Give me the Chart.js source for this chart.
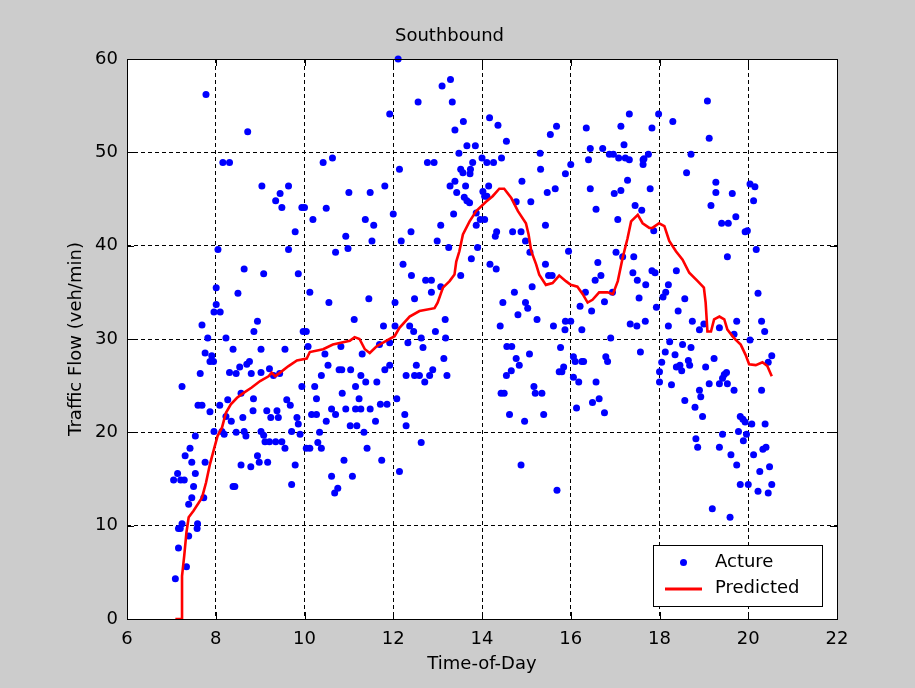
<!DOCTYPE html>
<html>
<head>
<meta charset="utf-8">
<script src="https://cdn.jsdelivr.net/npm/chart.js@4.4.1/dist/chart.umd.min.js"></script>
<style>
  html, body { margin: 0; padding: 0; background: #cccccc; }
  #wrap { width: 915px; height: 688px; }
</style>
</head>
<body>
<div id="wrap"><canvas id="c" width="915" height="688"></canvas></div>
<script>
// ---- Data ----
const chartTitle = "Southbound";
const xAxisTitle = "Time-of-Day";
const yAxisTitle = "Traffic Flow (veh/min)";
const seriesNames = ["Acture", "Predicted"];

const actTime = [
7.05,7.21,7.29,7.14,7.09,7.16,7.34,7.39,7.16,7.2,7.24,7.24,7.31,7.39,7.42,7.46,7.46,7.5,7.54,7.54,7.58,7.59,7.6,7.65,7.69,7.69,7.73,7.76,7.76,7.78,7.82,7.87,7.87,7.91,7.95,7.96,7.96,
8.01,8.01,8.05,8.09,8.1,8.14,8.16,8.19,8.23,8.23,8.27,8.31,8.31,8.35,8.39,8.39,8.43,8.46,8.46,8.5,8.54,8.57,8.57,8.61,8.64,8.64,8.68,8.7,8.72,8.76,8.79,8.8,8.84,8.85,8.86,8.94,8.94,8.98,
9.02,9.02,9.02,9.04,9.08,9.08,9.11,9.15,9.17,9.21,9.21,9.24,9.3,9.35,9.35,9.38,9.41,9.44,9.45,9.49,9.49,9.56,9.56,9.6,9.64,9.64,9.68,9.71,9.71,9.79,9.79,9.83,9.86,9.86,9.9,9.94,9.94,9.97,
10.04,10.0,10.04,10.08,10.12,10.12,10.16,10.19,10.23,10.27,10.27,10.3,10.34,10.38,10.38,10.42,10.46,10.49,10.49,10.53,10.55,10.61,10.61,10.63,10.68,10.7,10.7,10.75,10.78,10.82,10.84,10.85,10.89,10.93,10.93,10.98,
11.0,11.03,11.04,11.08,11.12,11.15,11.15,11.18,11.23,11.27,11.27,11.3,11.34,11.37,11.38,11.41,11.45,11.48,11.48,11.52,11.56,11.6,11.63,11.69,11.71,11.74,11.78,11.81,11.81,11.86,11.92,11.92,11.92,
12.0,12.04,12.04,12.08,12.11,12.14,12.14,12.18,12.22,12.26,12.29,12.29,12.33,12.37,12.4,12.41,12.46,12.48,12.48,12.52,12.56,12.59,12.63,12.63,12.67,12.71,12.73,12.77,12.82,12.86,12.86,12.89,12.92,12.95,12.99,
13.07,13.07,13.1,13.14,13.17,13.18,13.21,13.25,13.28,13.29,13.33,13.36,13.39,13.39,13.43,13.48,13.52,13.52,13.57,13.58,13.6,13.63,13.66,13.66,13.72,13.73,13.74,13.76,13.79,13.85,13.87,13.87,13.9,13.96,
14.0,14.02,14.06,14.06,14.11,14.11,14.15,14.17,14.18,14.26,14.3,14.32,14.33,14.36,14.41,14.43,14.44,14.47,14.5,14.55,14.55,14.56,14.62,14.66,14.67,14.69,14.73,14.77,14.77,14.81,14.84,14.88,14.88,14.9,14.96,14.98,14.98,
15.03,15.07,15.08,15.1,15.13,15.17,15.2,15.24,15.31,15.32,15.35,15.39,15.43,15.43,15.47,15.5,15.54,15.58,15.61,15.65,15.68,15.69,15.74,15.77,15.8,15.84,15.87,15.88,15.88,15.95,
16.0,16.0,16.06,16.06,16.1,16.13,16.18,16.21,16.25,16.25,16.29,16.33,16.35,16.4,16.44,16.44,16.47,16.49,16.55,16.57,16.57,16.61,16.64,16.68,16.72,16.76,16.76,16.79,16.83,16.87,16.9,16.94,16.96,16.98,
17.02,17.06,17.08,17.13,17.13,17.17,17.2,17.23,17.28,17.32,17.32,17.34,17.4,17.42,17.45,17.49,17.5,17.54,17.57,17.6,17.63,17.63,17.65,17.75,17.68,17.69,17.79,17.83,17.83,17.87,17.9,17.93,17.98,
18.0,18.0,18.05,18.08,18.13,18.14,18.2,18.2,18.23,18.27,18.3,18.35,18.38,18.38,18.42,18.46,18.5,18.52,18.57,18.57,18.61,18.65,18.68,18.71,18.71,18.74,18.8,18.82,18.86,18.9,18.9,18.93,18.97,
19.0,19.04,19.08,19.12,19.12,19.16,19.19,19.23,19.27,19.27,19.35,19.35,19.35,19.4,19.42,19.42,19.46,19.51,19.53,19.53,19.55,19.59,19.61,19.64,19.68,19.68,19.72,19.74,19.74,19.78,19.82,19.82,19.88,19.89,19.93,19.93,19.96,19.98,
20.0,20.04,20.04,20.08,20.12,20.12,20.15,20.18,20.22,20.22,20.26,20.3,20.3,20.33,20.37,20.38,20.4,20.45,20.45,20.48,20.53,20.53
];
const actFlow = [
14.9,14.9,14.9,15.6,4.3,7.6,5.6,8.9,9.7,9.7,10.2,24.9,17.5,12.3,18.3,16.8,13.0,14.2,15.6,19.6,9.7,10.2,22.9,26.3,22.9,31.5,13.0,16.8,28.5,56.2,30.1,22.2,27.6,28.2,27.6,20.1,32.9,
33.7,35.5,39.6,22.9,32.9,20.1,48.9,19.8,21.7,30.1,23.5,48.9,26.4,21.2,28.9,14.2,14.2,26.3,20.0,34.9,27.0,24.2,16.5,21.6,37.5,20.1,19.6,27.3,52.2,27.6,16.3,26.3,22.3,23.6,30.8,31.9,17.5,16.8,
28.9,26.4,20.1,46.4,37.0,19.7,19.0,22.3,16.8,26.8,19.0,21.6,26.1,44.8,19.0,22.3,21.6,26.3,45.6,44.1,19.0,28.9,18.3,23.5,46.4,39.6,22.9,20.1,14.4,41.5,16.5,21.6,37.0,20.9,19.8,24.9,44.1,30.8,
30.8,44.1,18.3,29.2,18.3,35.0,21.9,42.8,24.9,21.9,23.6,18.9,20.0,26.1,18.3,48.9,28.4,44.0,21.2,27.2,33.9,22.5,15.3,49.4,13.5,39.3,21.9,14.0,26.7,29.2,26.7,24.2,17.0,41.0,22.5,39.7,
45.7,20.7,26.7,15.3,32.1,24.9,22.5,20.7,23.6,26.1,22.5,28.4,20.0,42.8,25.4,18.3,34.3,45.7,22.5,40.5,42.2,21.2,25.4,29.4,23.0,17.0,31.4,46.4,26.7,23.0,54.1,29.6,27.2,
43.4,33.9,31.4,23.6,60.0,48.2,15.8,40.5,38.0,21.9,26.1,20.7,29.6,31.4,41.5,36.8,30.8,34.3,26.1,27.2,55.4,26.1,30.1,18.9,29.1,25.4,36.3,48.9,26.1,36.3,35.0,26.7,48.9,30.8,40.5,
42.2,35.6,57.1,27.9,32.1,30.1,26.1,39.8,46.4,57.8,55.4,43.4,52.4,46.9,45.7,49.9,48.2,36.8,47.8,53.3,45.2,46.4,50.7,44.8,44.6,47.7,48.2,38.6,48.9,50.7,43.5,42.2,39.8,42.8,
49.4,45.8,45.3,42.8,48.9,45.3,46.4,53.7,38.0,48.9,41.0,37.5,41.5,52.9,31.4,24.2,49.4,33.9,24.2,51.2,26.1,29.2,21.9,26.6,29.2,41.5,35.0,44.7,27.9,32.6,27.2,41.5,16.5,46.9,21.2,40.5,33.9,
33.3,28.4,39.3,44.7,35.6,24.9,24.2,32.1,49.9,48.2,24.2,21.9,42.2,38.0,45.7,36.8,51.9,36.8,31.4,46.1,52.8,13.8,26.5,29.1,26.5,27.0,31.0,31.9,47.7,39.4,
31.9,48.7,28.1,25.9,27.6,22.6,25.4,33.5,31.0,27.6,27.6,35.0,52.6,49.2,50.4,46.1,33.0,23.2,36.3,43.9,25.4,38.2,23.6,36.8,50.4,34.0,22.1,28.1,27.6,49.8,30.1,35.0,49.8,45.6,
39.3,42.8,49.4,52.8,45.9,38.8,50.8,49.4,47.0,54.1,49.2,31.6,37.1,38.8,44.3,31.4,36.3,34.4,28.6,43.8,49.2,48.7,49.3,49.8,31.9,35.8,46.1,52.6,37.3,41.6,37.1,33.4,54.1,
26.5,25.4,27.5,34.5,28.6,35.0,35.8,31.4,29.7,25.1,53.3,28.3,37.3,27.0,33.0,27.2,26.6,29.4,34.3,23.4,47.8,27.7,27.2,49.8,29.1,31.9,22.7,19.3,18.4,31.0,24.5,23.8,21.7,
31.6,27.0,55.5,51.5,25.2,44.3,11.8,27.9,46.8,45.7,31.2,25.2,18.4,42.4,25.8,19.8,26.2,26.4,38.8,25.2,42.4,10.9,17.6,45.6,30.5,24.5,43.1,31.9,16.5,20.1,21.7,14.4,21.4,19.1,41.5,21.1,19.8,41.6,
14.4,46.6,29.9,20.9,44.8,17.6,46.3,39.6,34.9,13.7,15.8,31.9,24.5,18.2,30.8,20.9,18.4,27.5,13.5,16.3,28.2,14.4
];

const predTime = [7.09,7.24,7.24,7.29,7.34,7.39,7.5,7.69,7.78,7.87,7.96,8.04,8.14,8.23,8.34,8.48,8.62,8.81,9.0,9.19,9.26,9.34,9.45,9.64,9.83,10.05,10.12,10.42,10.64,11.02,11.13,11.24,11.36,11.47,11.62,11.84,12.03,12.14,12.37,12.59,12.93,13.0,13.12,13.27,13.38,13.42,13.49,13.57,13.72,13.87,14.09,14.24,14.39,14.5,14.66,14.81,14.99,15.05,15.11,15.22,15.29,15.44,15.59,15.74,15.89,16.0,16.15,16.27,16.38,16.49,16.64,16.83,16.95,17.06,17.17,17.28,17.36,17.51,17.62,17.77,17.84,17.99,18.11,18.22,18.37,18.52,18.67,18.86,19.0,19.04,19.08,19.16,19.23,19.35,19.46,19.53,19.68,19.83,19.94,20.02,20.17,20.32,20.43,20.53];
const predFlow = [0,0,4.6,6.8,9.3,10.9,11.6,13.0,14.6,16.6,18.2,19.6,20.5,22.1,23.0,23.7,24.2,24.8,25.5,26.0,26.4,26.0,26.4,27.1,27.7,27.9,28.6,28.9,29.4,29.8,30.2,30.0,28.9,28.5,29.2,29.8,30.3,31.2,32.4,33.0,33.3,33.9,35.5,36.2,36.9,38.3,39.4,41.2,42.6,43.7,44.7,45.3,46.1,46.1,45.1,43.7,42.4,41.2,39.4,38.0,36.9,35.8,36.0,36.8,36.2,35.8,35.6,34.8,33.9,34.2,35.0,35.0,34.8,36.2,38.7,40.8,42.6,43.3,42.4,41.9,41.9,42.4,42.1,40.5,39.4,38.5,37.1,36.2,35.5,33.9,30.8,30.8,32.1,32.4,32.1,31.0,30.1,29.4,28.3,27.3,27.2,27.5,27.1,26.0];

const xMin = 6, xMax = 22, xStep = 2;
const yMin = 0, yMax = 60, yStep = 10;

// ---- Styling ----
const FONT = "'DejaVu Sans', 'Liberation Sans', Arial, sans-serif";
const BLUE = '#0000ff', RED = '#ff0000';

const actPoints = actTime.map((t, i) => ({ x: t, y: actFlow[i] }));
const predPoints = predTime.map((t, i) => ({ x: t, y: predFlow[i] }));

// White plot background, solid box with inward ticks, legend inside axes
const axesPlugin = {
  id: 'axesBox',
  beforeDraw(chart) {
    const { ctx, chartArea: a } = chart;
    ctx.save();
    ctx.fillStyle = '#ffffff';
    ctx.fillRect(a.left, a.top, a.right - a.left, a.bottom - a.top);
    ctx.restore();
  },
  afterDraw(chart) {
    const { ctx, chartArea: a, scales } = chart;
    const tl = 7;
    ctx.save();
    ctx.strokeStyle = '#000000';
    ctx.lineWidth = 1;
    ctx.setLineDash([]);
    ctx.strokeRect(Math.round(a.left) + 0.5, Math.round(a.top) + 0.5,
                   Math.round(a.right - a.left), Math.round(a.bottom - a.top));
    ctx.beginPath();
    scales.x.ticks.forEach(t => {
      const px = Math.round(scales.x.getPixelForValue(t.value)) + 0.5;
      ctx.moveTo(px, a.bottom); ctx.lineTo(px, a.bottom - tl);
      ctx.moveTo(px, a.top); ctx.lineTo(px, a.top + tl);
    });
    scales.y.ticks.forEach(t => {
      const py = Math.round(scales.y.getPixelForValue(t.value)) + 0.5;
      ctx.moveTo(a.left, py); ctx.lineTo(a.left + tl, py);
      ctx.moveTo(a.right, py); ctx.lineTo(a.right - tl, py);
    });
    ctx.stroke();

    // legend box (inside the axes, lower right)
    const w = 169, h = 61;
    const lx = Math.round(a.right) - 184, ly = Math.round(a.bottom) - 74;
    ctx.fillStyle = '#ffffff';
    ctx.fillRect(lx, ly, w, h);
    ctx.strokeStyle = '#000000';
    ctx.strokeRect(lx + 0.5, ly + 0.5, w, h);
    const ds = chart.data.datasets;
    ctx.fillStyle = ds[0].pointBackgroundColor;
    ctx.beginPath();
    ctx.arc(lx + 30.5, ly + 17.5, 3.5, 0, Math.PI * 2);
    ctx.fill();
    ctx.strokeStyle = ds[1].borderColor;
    ctx.lineWidth = 3;
    ctx.beginPath();
    ctx.moveTo(lx + 12, ly + 44); ctx.lineTo(lx + 49, ly + 44);
    ctx.stroke();
    ctx.fillStyle = '#000000';
    ctx.font = '18px ' + FONT;
    ctx.textBaseline = 'middle';
    ctx.textAlign = 'left';
    ctx.fillText(ds[0].label, lx + 62, ly + 17);
    ctx.fillText(ds[1].label, lx + 62, ly + 43);
    ctx.restore();
  }
};

new Chart(document.getElementById('c'), {
  type: 'scatter',
  data: {
    datasets: [
      {
        label: seriesNames[0],
        data: actPoints,
        showLine: false,
        pointRadius: 3.5,
        pointHoverRadius: 3.5,
        pointBackgroundColor: BLUE,
        pointBorderColor: BLUE,
        pointBorderWidth: 0,
        clip: false,
        order: 2
      },
      {
        label: seriesNames[1],
        data: predPoints,
        showLine: true,
        borderColor: RED,
        backgroundColor: RED,
        borderWidth: 2.6,
        pointRadius: 0,
        pointHoverRadius: 0,
        tension: 0,
        fill: false,
        order: 1
      }
    ]
  },
  options: {
    responsive: false,
    animation: false,
    events: [],
    layout: { padding: { left: 62, right: 78, top: 10, bottom: 9 } },
    plugins: {
      legend: { display: false },
      tooltip: { enabled: false },
      title: {
        display: true,
        text: chartTitle,
        color: '#000000',
        font: { family: FONT, size: 18, weight: 'normal' },
        padding: { top: 16, bottom: 11.4 }
      }
    },
    scales: {
      x: {
        type: 'linear',
        min: xMin, max: xMax,
        ticks: { stepSize: xStep, color: '#000000', font: { family: FONT, size: 18 }, padding: 10 },
        grid: { color: '#000000', lineWidth: 1, drawTicks: false },
        border: { display: false, dash: [4, 3] },
        title: { display: true, text: xAxisTitle, color: '#000000', font: { family: FONT, size: 18 }, padding: { top: 4, bottom: 4 } },
        afterFit(s) { s.height = 60; }
      },
      y: {
        type: 'linear',
        min: yMin, max: yMax,
        ticks: { stepSize: yStep, color: '#000000', font: { family: FONT, size: 18 }, padding: 9 },
        grid: { color: '#000000', lineWidth: 1, drawTicks: false },
        border: { display: false, dash: [4, 3] },
        title: { display: true, text: yAxisTitle, color: '#000000', font: { family: FONT, size: 18 }, padding: { top: 4, bottom: 4 } },
        afterFit(s) { s.width = 65; }
      }
    }
  },
  plugins: [axesPlugin]
});
</script>
</body>
</html>
